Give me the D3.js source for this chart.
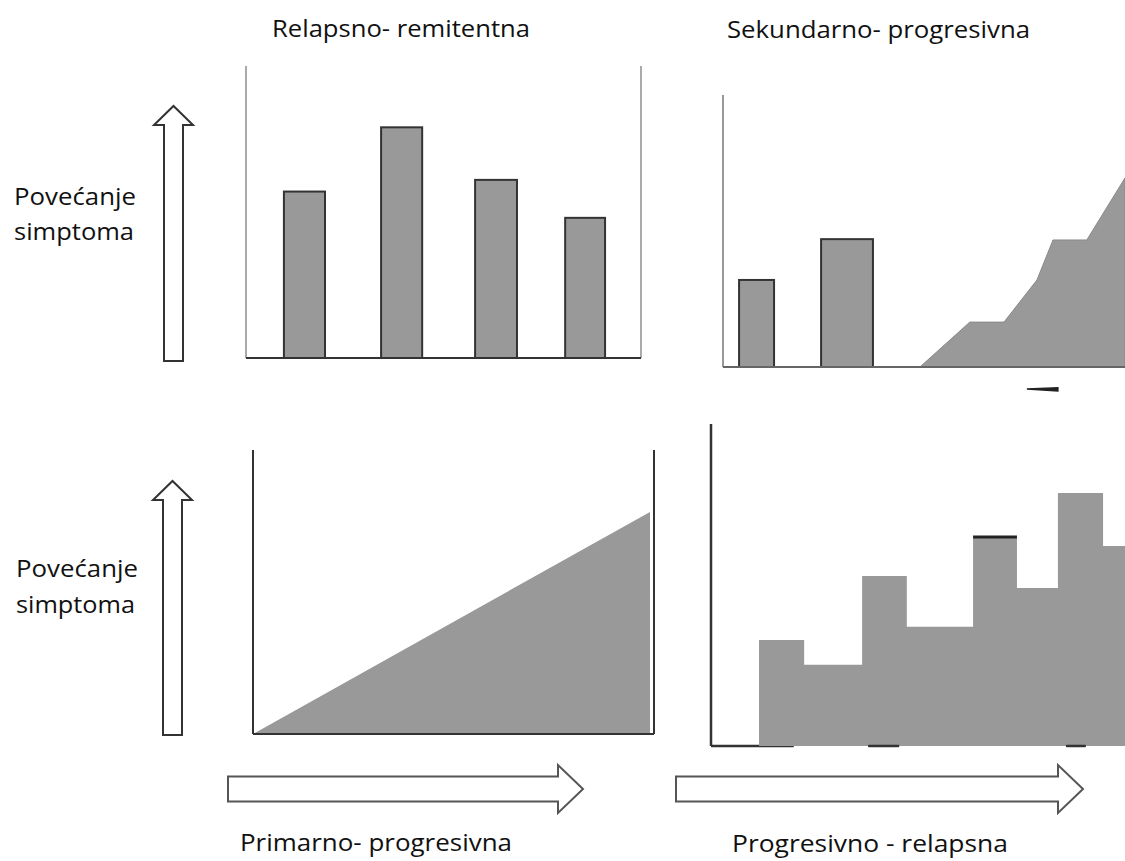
<!DOCTYPE html>
<html>
<head>
<meta charset="utf-8">
<script src="https://cdn.jsdelivr.net/npm/d3@7"></script>
<style>
  html, body { margin: 0; padding: 0; background: #fff; }
  svg { display: block; }
  text { font-family: "Open Sans", "Liberation Sans", sans-serif; fill: #111; }
</style>
</head>
<body>
<svg id="chart" width="1125" height="861"></svg>
<script>
// ---------- DATA (x = time 0..100, y = symptom level 0..100) ----------
// Relapsno-remitentna: separate relapse bars
const rrStart  = [9.6, 34.2, 58.0, 80.8];
const rrEnd    = [20.0, 44.6, 68.6, 90.9];
const rrValues = [57, 79, 61, 48];

// Sekundarno-progresivna: two relapse bars, then a progressive area
const spBarStart  = [4.0, 24.4];
const spBarEnd    = [12.7, 37.3];
const spBarValues = [32, 47];
const spAreaX = [49, 61.4, 69.9, 78.1, 82.1, 90.5, 100];
const spAreaY = [0, 16.5, 16.5, 32, 46.7, 46.7, 69.5];

// Primarno-progresivna: steady linear increase
const ppX = [0, 99];
const ppY = [0, 78.2];

// Progresivno-relapsna: stepped progression
const prX = [11.6, 22.5, 36.5, 47.3, 63.3, 73.9, 83.8, 94.7, 100];
const prY = [32.9, 25.2, 52.8, 37.0, 64.9, 49.1, 78.6, 62.1, 62.1];

// Labels
const titles = ["Relapsno- remitentna", "Sekundarno- progresivna", "Primarno- progresivna", "Progresivno - relapsna"];
const yLabelLines = ["Povećanje", "simptoma"];

// ---------- LAYOUT ----------
const svg = d3.select("#chart");
const FILL = "#999999";
const BAR_STROKE = "#333333";

function panel(x0, x1, yBase, yTop) {
  return {
    x: d3.scaleLinear().domain([0, 100]).range([x0, x1]),
    y: d3.scaleLinear().domain([0, 100]).range([yBase, yTop])
  };
}
const pTL = panel(246, 641, 358, 66);
const pTR = panel(723, 1125, 367, 95);
const pBL = panel(253, 654, 734, 450);
const pBR = panel(711, 1125, 746, 424);

function vline(p, xv, color, w) {
  svg.append("line")
    .attr("x1", p.x(xv)).attr("x2", p.x(xv))
    .attr("y1", p.y(100)).attr("y2", p.y(0))
    .attr("stroke", color).attr("stroke-width", w);
}
function hline(p, x0v, x1v, color, w) {
  svg.append("line")
    .attr("x1", p.x(x0v)).attr("x2", p.x(x1v))
    .attr("y1", p.y(0)).attr("y2", p.y(0))
    .attr("stroke", color).attr("stroke-width", w);
}

// ---------- Panel TL: Relapsno-remitentna ----------
vline(pTL, 0, "#aaaaaa", 2);
vline(pTL, 100, "#aaaaaa", 2);
svg.append("g").selectAll("rect").data(rrValues).join("rect")
  .attr("x", (d, i) => pTL.x(rrStart[i]))
  .attr("width", (d, i) => pTL.x(rrEnd[i]) - pTL.x(rrStart[i]))
  .attr("y", d => pTL.y(d))
  .attr("height", d => pTL.y(0) - pTL.y(d))
  .attr("fill", FILL).attr("stroke", BAR_STROKE).attr("stroke-width", 2);
hline(pTL, 0, 100, "#333333", 2);

// ---------- Panel TR: Sekundarno-progresivna ----------
vline(pTR, 0, "#999999", 2);
const spArea = d3.area()
  .x((d, i) => pTR.x(spAreaX[i]))
  .y0(pTR.y(0))
  .y1(d => pTR.y(d));
svg.append("path").datum(spAreaY)
  .attr("d", spArea)
  .attr("fill", FILL).attr("stroke", "#888").attr("stroke-width", 1);
svg.append("g").selectAll("rect").data(spBarValues).join("rect")
  .attr("x", (d, i) => pTR.x(spBarStart[i]))
  .attr("width", (d, i) => pTR.x(spBarEnd[i]) - pTR.x(spBarStart[i]))
  .attr("y", d => pTR.y(d))
  .attr("height", d => pTR.y(0) - pTR.y(d))
  .attr("fill", FILL).attr("stroke", BAR_STROKE).attr("stroke-width", 2);
hline(pTR, 0, 100, "#666666", 2);
// small dark mark below the axis
svg.append("path")
  .attr("d", `M${pTR.x(75.6)},${pTR.y(-8.1)} L${pTR.x(83.3)},${pTR.y(-8.8)} L${pTR.x(83.3)},${pTR.y(-7.6)} Z`)
  .attr("fill", "#222").attr("stroke", "#222").attr("stroke-width", 1.5);

// ---------- Panel BL: Primarno-progresivna ----------
const ppArea = d3.area()
  .x((d, i) => pBL.x(ppX[i]))
  .y0(pBL.y(0))
  .y1(d => pBL.y(d));
svg.append("path").datum(ppY)
  .attr("d", ppArea).attr("fill", FILL);
vline(pBL, 0, "#333333", 2);
vline(pBL, 100, "#333333", 2);
hline(pBL, 0, 100, "#333333", 2);

// ---------- Panel BR: Progresivno-relapsna ----------
hline(pBR, 0, 20, "#333333", 2.5);
const prArea = d3.area()
  .curve(d3.curveStepAfter)
  .x((d, i) => pBR.x(prX[i]))
  .y0(pBR.y(0))
  .y1(d => pBR.y(d));
svg.append("path").datum(prY)
  .attr("d", prArea).attr("fill", FILL);
vline(pBR, 0, "#333333", 2.5);
// dark highlights on the step top and baseline
svg.append("line")
  .attr("x1", pBR.x(prX[4])).attr("x2", pBR.x(prX[5]))
  .attr("y1", pBR.y(prY[4])).attr("y2", pBR.y(prY[4]))
  .attr("stroke", "#222").attr("stroke-width", 3);
[[38.2, 45.2], [86.0, 90.3]].forEach(seg => {
  svg.append("line")
    .attr("x1", pBR.x(seg[0])).attr("x2", pBR.x(seg[1]))
    .attr("y1", pBR.y(0)).attr("y2", pBR.y(0))
    .attr("stroke", "#333").attr("stroke-width", 2.5).attr("stroke-linecap", "round");
});

// ---------- Block arrows ----------
function upArrow(cx, shaftHalf, headHalf, tipY, headBaseY, bottomY) {
  const d = `M${cx - shaftHalf},${bottomY} L${cx - shaftHalf},${headBaseY} L${cx - headHalf},${headBaseY} L${cx},${tipY} L${cx + headHalf},${headBaseY} L${cx + shaftHalf},${headBaseY} L${cx + shaftHalf},${bottomY} Z`;
  svg.append("path").attr("d", d).attr("fill", "#fff").attr("stroke", "#333").attr("stroke-width", 2).attr("stroke-linejoin", "miter");
}
function rightArrow(x0, headX, tipX, cy, shaftHalf, headHalf) {
  const d = `M${x0},${cy - shaftHalf} L${headX},${cy - shaftHalf} L${headX},${cy - headHalf} L${tipX},${cy} L${headX},${cy + headHalf} L${headX},${cy + shaftHalf} L${x0},${cy + shaftHalf} Z`;
  svg.append("path").attr("d", d).attr("fill", "#fff").attr("stroke", "#555").attr("stroke-width", 2).attr("stroke-linejoin", "miter");
}
upArrow(173.5, 9.5, 19.5, 106, 125, 361);
upArrow(172.5, 9.5, 19.5, 481, 500, 735);
rightArrow(228, 558, 583, 789, 12.5, 24);
rightArrow(676, 1058, 1083, 789, 12.5, 24);

// ---------- Text ----------
function label(txt, x, y, len) {
  svg.append("text").attr("x", x).attr("y", y)
    .attr("font-size", 24)
    .attr("textLength", len).attr("lengthAdjust", "spacingAndGlyphs")
    .text(txt);
}
label(titles[0], 272, 37, 258);
label(titles[1], 727, 38, 303);
label(titles[2], 240, 851, 272);
label(titles[3], 732, 852, 276);
label(yLabelLines[0], 14, 205, 122);
label(yLabelLines[1], 14, 240, 120);
label(yLabelLines[0], 16, 577, 122);
label(yLabelLines[1], 16, 613, 119);
</script>
</body>
</html>
